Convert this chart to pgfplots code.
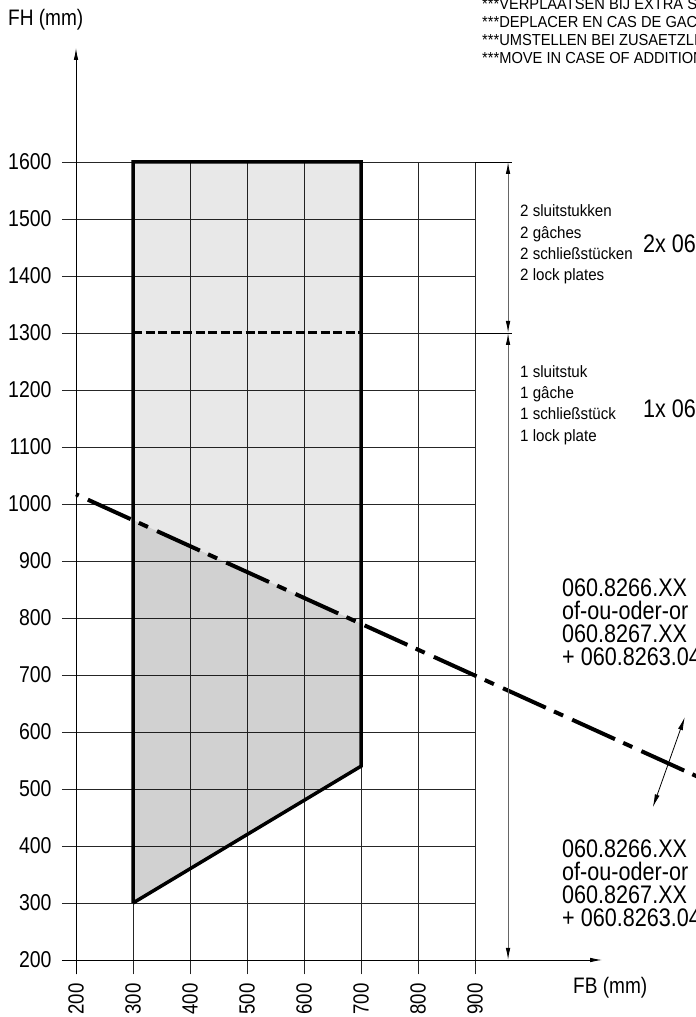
\documentclass[border=0pt]{standalone}
\usepackage{fontspec}
\setmainfont{Liberation Sans}[FakeStretch=0.85]
\newfontfamily\narrowfont{Liberation Sans}[FakeStretch=0.92]
\usepackage{pgfplots}
\pgfplotsset{compat=1.18}
\usetikzlibrary{arrows.meta}

\begin{document}
\begin{tikzpicture}[
  ar/.style={-{Latex[length=12bp,width=4.5bp]}},
  dimtip/.tip={Latex[length=12bp,width=4.5bp,color=black]},
]
\useasboundingbox (0,0) rectangle (696bp,1017bp);
\clip (0,0) rectangle (696bp,1017bp);

\begin{axis}[
  at={(61.75bp,42.75bp)}, anchor=south west,
  x=0.57bp, y=0.57bp,
  xmin=175, xmax=900, ymin=175, ymax=1600,
  axis line style={draw=none},
  xtick={200,300,...,900},
  ytick={200,300,...,1600},
  major tick length=0pt,
  grid=major,
  major grid style={black!85, line width=0.9bp},
  yticklabel style={font=\fontsize{23}{23}\selectfont, inner sep=0pt},
  yticklabel shift=10bp,
  xticklabel style={font=\fontsize{22}{22}\selectfont, rotate=90, anchor=east, inner sep=0pt},
  xticklabel shift=9bp,
  clip=false,
  /pgf/number format/.cd, 1000 sep={}, assume math mode=true,
]
% light zone (above the dash-dot line)
\addplot[draw=none, fill=black, fill opacity=0.09] coordinates {
  (300,1600) (700,1600) (700,789.9) (300,971.6) (300,1600)};
% dense zone (below the dash-dot line)
\addplot[draw=none, fill=black, fill opacity=0.18] coordinates {
  (300,971.6) (700,789.9) (700,540) (300,300) (300,971.6)};

% 1300 split, dashed
\addplot[black!9, line width=2bp] coordinates {(302,1300) (698,1300)};
\addplot[black, line width=3bp, dash pattern=on 9bp off 3.5bp] coordinates {(300,1300) (700,1300)};

% outline
\addplot[black, line width=3.5bp] coordinates {
  (300,300) (300,1600) (700,1600) (700,540) (300,300)};

% dash-dot boundary
\addplot[black, line width=4bp, dash pattern=on 47bp off 9bp on 10bp off 10bp, dash phase=63bp]
  coordinates {(200,1017) (1300,517.3)};

% axes with arrows
\draw[black, line width=0.9bp, ar] (axis cs:175,200) -- (axis cs:1123,200);
\draw[black, line width=0.9bp, ar] (axis cs:200,175) -- (axis cs:200,1800);

% dimension line on the right
\draw[black, line width=0.9bp] (axis cs:900,1600) -- (axis cs:965,1600);
\draw[black, line width=0.9bp] (axis cs:900,1300) -- (axis cs:965,1300);
\draw[black!60, line width=0.9bp, dimtip-dimtip] (axis cs:958,1300) -- (axis cs:958,1600);
\draw[black!60, line width=0.9bp, dimtip-dimtip] (axis cs:958,200) -- (axis cs:958,1300);

% double arrow across the boundary
\draw[black, line width=0.8bp, {Latex[length=13bp,width=5bp]}-{Latex[length=13bp,width=5bp]}]
  (axis cs:1212,468) -- (axis cs:1268,626);
\end{axis}

% texts
\node[anchor=west, inner sep=0pt, font=\fontsize{22.5}{22.5}\selectfont] at (8bp,997bp) {FH (mm)};
\node[anchor=west, inner sep=0pt, font=\fontsize{22.5}{22.5}\selectfont] at (573bp,29bp) {FB (mm)};

\node[anchor=west, inner sep=0pt, align=left, font=\narrowfont\fontsize{16}{18}\selectfont]
  at (482bp,986bp) {***VERPLAATSEN BIJ EXTRA SLUITSTUK\\
  ***DEPLACER EN CAS DE GACHE SUPPLEMENTAIRE\\
  ***UMSTELLEN BEI ZUSAETZLICHEM SCHLIESSSTUECK\\
  ***MOVE IN CASE OF ADDITIONAL LOCK PLATE};

\node[anchor=west, inner sep=0pt, align=left, font=\narrowfont\fontsize{16.5}{21.5}\selectfont]
  at (520bp,772.5bp) {2 sluitstukken\\2 gâches\\2 schließstücken\\2 lock plates};
\node[anchor=west, inner sep=0pt, align=left, font=\narrowfont\fontsize{16.5}{21.5}\selectfont]
  at (520bp,612bp) {1 sluitstuk\\1 gâche\\1 schließstück\\1 lock plate};

\node[anchor=west, inner sep=0pt, font=\fontsize{25.5}{25.5}\selectfont] at (643bp,773bp) {2x 060.8263.04};
\node[anchor=west, inner sep=0pt, font=\fontsize{25.5}{25.5}\selectfont] at (643bp,608bp) {1x 060.8263.04};

\node[anchor=west, inner sep=0pt, align=left, font=\fontsize{25.5}{23}\selectfont]
  at (562bp,395bp) {060.8266.XX\\of-ou-oder-or\\060.8267.XX\\+ 060.8263.04};
\node[anchor=west, inner sep=0pt, align=left, font=\fontsize{25.5}{23}\selectfont]
  at (562bp,134bp) {060.8266.XX\\of-ou-oder-or\\060.8267.XX\\+ 060.8263.04};
\end{tikzpicture}
\end{document}
